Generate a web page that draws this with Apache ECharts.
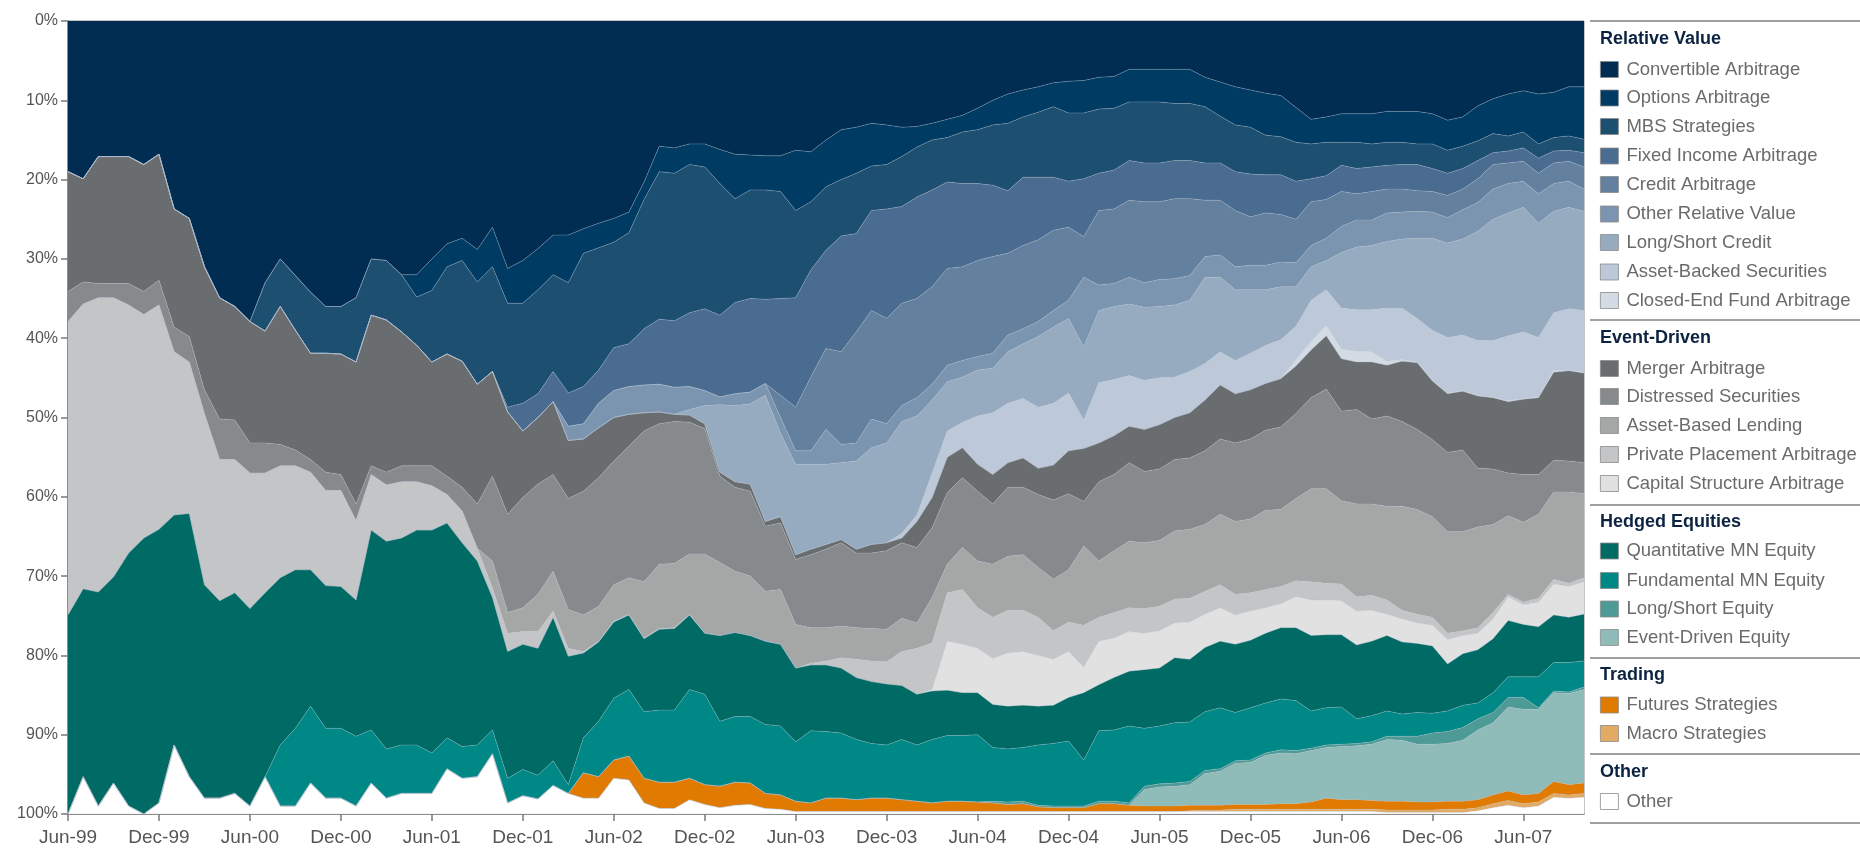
<!DOCTYPE html>
<html><head><meta charset="utf-8">
<script src="https://cdn.jsdelivr.net/npm/echarts@6/dist/echarts.min.js"></script>
<style>html,body{margin:0;padding:0;background:#fff}#chart{width:1860px;height:849px}</style>
</head><body><div id="chart"></div>
<script>
// ---------------- DATA ----------------
const categories = [
'Jun-99','Jul-99','Aug-99','Sep-99','Oct-99','Nov-99','Dec-99',
'Jan-00','Feb-00','Mar-00','Apr-00','May-00','Jun-00','Jul-00','Aug-00','Sep-00','Oct-00','Nov-00','Dec-00',
'Jan-01','Feb-01','Mar-01','Apr-01','May-01','Jun-01','Jul-01','Aug-01','Sep-01','Oct-01','Nov-01','Dec-01',
'Jan-02','Feb-02','Mar-02','Apr-02','May-02','Jun-02','Jul-02','Aug-02','Sep-02','Oct-02','Nov-02','Dec-02',
'Jan-03','Feb-03','Mar-03','Apr-03','May-03','Jun-03','Jul-03','Aug-03','Sep-03','Oct-03','Nov-03','Dec-03',
'Jan-04','Feb-04','Mar-04','Apr-04','May-04','Jun-04','Jul-04','Aug-04','Sep-04','Oct-04','Nov-04','Dec-04',
'Jan-05','Feb-05','Mar-05','Apr-05','May-05','Jun-05','Jul-05','Aug-05','Sep-05','Oct-05','Nov-05','Dec-05',
'Jan-06','Feb-06','Mar-06','Apr-06','May-06','Jun-06','Jul-06','Aug-06','Sep-06','Oct-06','Nov-06','Dec-06',
'Jan-07','Feb-07','Mar-07','Apr-07','May-07','Jun-07','Jul-07','Aug-07','Sep-07','Oct-07'];

const convertibleArbitrage = [
19.0,19.9,17.1,17.1,17.1,18.1,16.8,23.7,24.9,31.0,
34.9,36.0,37.9,33.0,30.0,32.1,34.2,36.0,36.0,34.9,
30.0,30.2,32.0,32.0,30.0,28.1,27.4,28.8,26.0,31.2,
30.2,28.7,27.0,27.0,26.2,25.5,24.9,24.1,20.3,15.8,
16.0,15.5,15.5,16.2,16.8,16.9,17.0,17.0,16.3,16.5,
15.0,13.7,13.4,12.9,13.1,13.4,13.3,12.9,12.4,11.9,
11.0,10.0,9.2,8.7,8.3,7.8,7.6,7.5,7.1,7.0,
6.1,6.1,6.1,6.1,6.1,7.1,7.7,8.3,8.7,9.1,
9.4,10.9,12.4,12.1,11.7,11.7,11.7,11.4,11.4,11.4,
11.7,12.5,12.1,10.7,9.8,9.2,8.8,9.2,9.0,8.3,8.3];
const optionsArbitrage = [
0,0,0,0,0,0,0,0,0,0,
0,0,0,0,0,0,0,0,0,0,
0,0,0,2.8,4.0,2.9,2.8,4.1,5.0,4.4,
5.4,5.2,5.0,6.0,3.1,3.1,3.0,2.6,2.2,3.2,
3.2,2.6,2.9,4.3,5.6,4.4,4.3,4.5,7.6,6.3,
5.9,6.3,5.8,5.4,5.0,3.7,2.6,2.1,2.3,2.1,
2.7,3.1,3.7,3.4,3.2,3.0,4.0,4.1,4.0,4.0,
4.1,4.1,4.1,4.3,4.3,3.7,4.3,4.8,4.7,5.3,
5.2,4.4,3.1,3.2,3.6,3.6,3.8,3.9,3.9,4.1,
3.8,3.8,3.7,4.4,4.4,5.3,5.2,6.3,5.7,6.2,6.6];
const mbsStrategies = [
0,0,0,0,0,0,0,0,0,0,
0,0,0,6.1,6.0,6.9,7.7,5.9,6.0,8.1,
7.1,7.5,7.2,6.1,9.0,11.0,12.7,12.9,13.2,13.1,
12.6,13.1,12.2,13.9,16.8,15.4,13.3,14.0,16.3,18.6,
18.6,18.7,17.9,16.6,13.1,13.7,13.8,13.5,11.0,8.6,
8.0,7.1,7.6,5.6,5.6,6.3,6.3,6.3,5.6,6.5,
6.8,7.6,8.5,7.6,8.2,8.9,8.6,8.3,8.1,7.8,
7.4,7.7,7.7,7.2,7.2,7.1,5.9,5.9,5.9,5.0,
4.8,4.9,4.4,4.2,2.9,3.3,2.9,2.9,2.8,2.6,
3.1,2.9,2.8,2.5,2.4,1.9,2.0,1.8,1.7,1.8,1.7];
const fixedIncomeArbitrage = [
0,0,0,0,0,0,0,0,0,0,
0,0,0,0,0,0,0,0,0,0,
0,0,0,0,0,0,0,0,0,0.6,
3.5,3.0,3.8,4.2,4.7,4.2,5.4,5.4,7.1,8.2,
8.4,9.3,10.3,10.3,11.5,11.8,10.6,12.2,13.8,13.5,
12.4,14.6,12.4,12.6,13.8,12.2,12.8,12.2,10.9,10.5,
9.7,9.0,7.9,8.6,7.9,6.7,5.8,7.3,4.7,4.9,
5.0,4.9,4.9,4.8,4.8,4.7,4.7,4.9,5.4,4.8,
5.0,4.8,2.9,3.0,3.3,3.2,3.1,3.0,3.1,3.3,
2.9,2.8,2.6,2.3,1.5,1.5,1.7,1.9,1.5,1.4,1.8];
const creditArbitrage = [
0,0,0,0,0,0,0,0,0,0,
0,0,0,0,0,0,0,0,0,0,
0,0,0,0,0,0,0,0,0,0,
0,0,0,0,0,0,0,0,0,0,
0,0,0,0,0,0,0,2.8,5.5,9.3,
10.2,11.7,14.0,13.7,13.3,12.9,12.5,12.3,12.2,11.8,
12.1,12.2,10.3,10.5,10.3,10.1,9.2,5.1,9.4,9.4,
9.7,10.2,9.8,10.1,9.7,7.1,6.9,7.1,6.1,6.6,
6.0,5.5,5.5,4.9,4.4,3.3,3.6,3.0,2.9,2.6,
2.6,2.8,2.6,3.0,3.1,2.6,2.5,2.6,2.6,2.5,2.8];
const otherRelativeValue = [
0,0,0,0,0,0,0,0,0,0,
0,0,0,0,0,0,0,0,0,0,
0,0,0,0,0,0,0,0,0,0,
0,0,0,1.8,1.9,3.1,3.4,3.5,3.5,3.5,
3.4,2.9,1.9,1.0,1.5,1.5,1.5,2.0,1.7,1.7,
4.4,2.3,2.3,3.6,2.4,2.0,2.3,2.0,2.1,2.1,
1.7,1.9,2.1,1.9,1.9,2.1,2.3,8.8,3.2,2.9,
3.4,3.1,3.4,3.3,3.1,2.6,2.8,2.9,3.1,3.1,
3.1,3.0,2.7,2.8,3.3,3.4,3.2,3.6,3.4,3.4,
3.3,3.2,3.7,3.6,3.8,3.7,3.3,3.7,3.5,3.3,2.8];
const longShortCredit = [
0,0,0,0,0,0,0,0,0,0,
0,0,0,0,0,0,0,0,0,0,
0,0,0,0,0,0,0,0,0,0,
0,0,0,0,0,0,0,0,0,0,
0,0.7,2.3,8.5,9.6,10.1,15.9,10.5,11.4,10.7,
10.1,9.7,11.1,12.2,12.6,14.1,12.5,9.2,6.2,5.7,
5.8,5.6,6.5,6.9,8.9,9.6,9.4,9.2,9.1,9.2,
9.0,9.2,9.0,9.1,9.0,10.9,9.4,8.9,8.0,7.0,
6.7,5.0,4.2,3.7,7.0,7.9,8.1,8.4,8.7,10.1,
11.6,11.9,12.1,13.8,15.3,15.5,15.7,14.4,12.8,12.8,12.5];
const assetBackedSecurities = [
0,0,0,0,0,0,0,0,0,0,
0,0,0,0,0,0,0,0,0,0,
0,0,0,0,0,0,0,0,0,0,
0,0,0,0,0,0,0,0,0,0,
0,0,0,0,0,0,0,0,0,0,
0,0,0,0,0,0.6,0.8,3.1,3.3,3.2,
6.1,7.8,7.5,7.5,7.7,7.8,7.3,3.6,7.6,7.1,
6.4,6.2,5.9,5.1,5.2,4.6,4.2,4.2,4.6,4.8,
4.9,4.2,5.2,4.5,5.2,5.2,5.3,6.7,6.5,5.5,
6.3,7.0,7.0,6.9,7.1,8.2,8.4,7.5,7.2,7.7,7.8];
const closedEndFundArbitrage = [
0,0,0,0,0,0,0,0,0,0,
0,0,0,0,0,0,0,0,0,0,
0,0,0,0,0,0,0,0,0,0,
0,0,0,0,0,0,0,0,0,0,
0,0,0,0,0,0,0,0,0,0,
0,0,0,0,0,0,0,0,0,0,
0,0,0,0,0,0,0,0,0,0,
0,0,0,0,0,0,0,0,0,0,
0,0.8,1.1,1.3,1.2,1.4,1.3,0.5,0.2,0.1,
0.1,0.1,0.1,0.1,0.1,0.1,0.1,0.1,0.3,0.1,0.1];
const mergerArbitrage = [
15.1,13.0,16.0,16.0,16.0,16.0,15.9,14.9,14.9,15.5,
15.3,14.3,15.3,14.1,17.4,15.1,13.4,15.0,15.2,17.9,
19.0,19.2,16.9,15.2,13.1,15.4,15.9,15.1,13.2,12.9,
8.4,8.4,9.2,7.3,6.6,6.3,5.5,4.0,2.3,1.5,
0.9,0.9,0.6,0.5,0.7,0.9,0.6,0.8,0.6,0.7,
0.6,0.4,0.5,1.1,1.0,0.6,3.3,3.8,4.5,3.8,
3.4,3.7,3.1,3.7,3.3,4.4,5.4,6.7,4.9,4.9,
4.6,5.3,5.6,5.3,5.7,6.4,6.8,6.2,6.2,5.9,
6.1,6.0,6.0,6.7,6.6,6.0,7.2,6.4,7.6,8.4,
7.4,7.4,7.4,9.1,9.0,9.0,9.5,9.7,11.1,11.4,11.3];
const distressedSecurities = [
3.8,2.8,1.8,1.8,2.7,2.9,3.1,3.1,3.2,3.0,
5.1,5.0,3.8,3.8,2.7,2.0,1.6,2.3,2.0,2.1,
1.1,1.6,2.0,2.0,2.5,2.3,3.0,5.6,10.7,12.4,
13.9,13.9,12.2,14.0,15.6,16.2,15.6,16.6,19.0,17.7,
17.9,16.6,15.8,10.9,10.6,10.7,8.2,8.4,8.2,9.2,
9.9,10.5,9.4,9.5,9.9,9.5,9.5,8.8,9.0,8.8,
8.8,7.6,8.7,8.5,9.2,10.0,9.6,5.6,10.0,9.6,
9.9,9.0,9.0,9.0,9.0,9.3,9.5,9.9,10.1,10.1,
10.4,10.7,11.5,12.6,11.3,11.9,10.7,11.4,10.7,10.1,
9.7,10.0,10.3,7.4,7.0,5.4,6.0,5.0,4.0,3.9,3.9];
const assetBasedLending = [
0,0,0,0,0,0,0,0,0,0,
0,0,0,0,0,0,0,0,0,0,
0,0,0,0,0,0,0,0,3.4,2.6,
3.0,4.7,5.0,4.9,4.6,4.4,4.6,4.6,7.1,8.1,
8.1,7.6,10.0,9.2,7.7,7.5,6.3,6.9,5.5,4.5,
4.2,4.0,4.0,4.1,4.1,4.2,3.2,5.7,3.6,5.3,
5.9,6.7,6.8,7.0,6.3,6.5,6.6,10.0,7.1,7.8,
8.4,8.3,8.3,8.6,8.7,8.4,8.9,9.2,9.3,10.0,
9.7,10.4,11.7,11.9,10.5,11.7,11.5,11.8,13.1,13.2,
12.7,12.8,12.5,12.7,11.1,9.9,10.1,10.6,11.0,11.5,10.6];
const privatePlacementArbitrage = [
37.0,35.9,37.1,35.2,31.3,28.2,28.3,20.6,19.1,21.6,
17.8,16.8,17.1,15.1,14.1,13.1,12.3,12.0,12.1,10.0,
7.0,7.1,7.1,6.1,5.6,3.6,4.0,1.6,1.2,2.3,
1.6,2.1,0.8,1.0,0.2,0.1,0.1,0.1,0.1,0.1,
0.1,0.1,0,0,0,0,0,0,0,0.2,
0.5,1.3,2.3,2.6,2.8,4.3,5.8,5.9,6.1,6.9,
5.1,5.2,5.4,5.2,4.8,3.6,3.7,5.3,3.0,3.2,
3.0,3.1,3.1,3.0,3.0,2.9,2.9,2.6,2.3,2.3,
2.2,2.0,2.3,2.1,2.1,1.8,1.9,1.8,1.1,1.1,
1.0,0.8,0.6,0.7,0.8,0.3,0.3,0.5,0.6,0.4,0.5];
const capitalStructureArbitrage = [
0,0,0,0,0,0,0,0,0,0,
0,0,0,0,0,0,0,0,0,0,
0,0,0,0,0,0,0,0,0,0,
0,0,0,0,0,0,0,0,0,0,
0,0,0,0,0,0,0,0,0,0,
0,0,0,0,0,0,0,0.2,6.2,6.1,
5.6,5.8,6.7,6.8,6.4,5.8,5.8,3.2,5.5,5.0,
5.0,4.6,4.7,4.4,4.7,4.2,4.2,3.7,3.7,3.2,
3.0,3.9,4.5,4.4,4.3,4.3,3.9,2.7,2.9,2.6,
2.6,3.1,2.3,2.1,2.5,3.0,2.5,3.1,3.9,3.9,4.1];
const quantitativeMNEquity = [
25.1,23.7,27.0,26.0,31.9,34.8,34.5,29.0,33.2,26.9,
24.9,25.3,24.9,23.2,21.1,20.0,17.2,18.0,17.9,17.2,
25.2,26.2,26.1,27.1,28.1,27.1,25.7,23.2,16.7,16.0,
15.8,16.0,18.1,16.2,10.7,10.0,9.6,9.4,9.2,10.2,
10.3,9.4,7.7,10.8,10.6,10.2,10.5,10.3,9.3,8.3,
8.4,8.2,7.8,7.8,7.7,6.8,6.4,6.1,5.7,5.4,
5.3,5.4,5.4,5.3,4.9,4.8,5.5,8.5,5.8,6.6,
6.9,7.4,7.3,8.2,7.9,8.1,8.4,8.6,8.5,8.8,
9.0,9.2,9.5,9.2,9.1,9.3,9.4,9.5,9.1,8.7,
8.5,5.9,6.5,6.7,6.8,7.1,6.6,6.3,6.0,5.7,5.9];
const fundamentalMNEquity = [
0,0,0,0,0,0,0,0,0,0,
0,0,0,0,7.7,9.8,9.7,8.8,8.8,8.8,
6.7,6.2,6.1,6.1,5.1,3.9,4.0,4.0,3.0,3.1,
3.3,3.0,3.1,1.1,4.4,7.0,7.8,8.4,8.4,9.1,
9.1,11.2,11.4,8.2,8.3,8.4,8.7,8.7,7.5,9.1,
8.4,8.2,7.6,6.9,6.7,7.6,7.1,8.0,8.3,8.3,
8.5,6.8,6.7,6.8,7.6,7.9,8.2,5.8,8.9,9.0,
9.7,7.3,7.3,7.6,7.5,7.4,7.7,6.1,6.6,6.3,
6.4,6.3,4.7,4.7,4.7,3.1,3.3,3.2,2.8,3.0,
2.5,2.6,2.8,2.0,2.5,2.6,2.6,3.9,3.6,3.7,3.3];
const longShortEquity = [
0,0,0,0,0,0,0,0,0,0,
0,0,0,0,0,0,0,0,0,0,
0,0,0,0,0,0,0,0,0,0,
0,0,0,0,0,0,0,0,0,0,
0,0,0,0,0,0,0,0,0,0,
0,0,0,0,0,0,0,0,0,0,
0,0.2,0.3,0.3,0.2,0.2,0.2,0.2,0.3,0.3,
0.3,0.4,0.4,0.4,0.4,0.4,0.3,0.3,0.3,0.3,
0.4,0.4,0.3,0.3,0.3,0.3,0.3,0.4,0.5,1.0,
1.4,1.5,1.6,1.4,1.3,1.2,1.5,0.2,0.2,0.2,0.3];
const eventDrivenEquity = [
0,0,0,0,0,0,0,0,0,0,
0,0,0,0,0,0,0,0,0,0,
0,0,0,0,0,0,0,0,0,0,
0,0,0,0,0,0,0,0,0,0,
0,0,0,0,0,0,0,0,0,0,
0,0,0,0,0,0,0,0,0,0,
0,0,0,0,0,0,0,0,0,0,
0,2.1,2.4,2.5,2.6,4.0,4.3,5.2,5.3,6.2,
6.4,6.3,6.5,6.4,6.7,6.8,7.1,7.8,7.7,7.3,
7.3,7.3,7.7,8.8,9.1,10.6,10.8,10.6,11.2,11.5,11.8];
const futuresStrategies = [
0,0,0,0,0,0,0,0,0,0,
0,0,0,0,0,0,0,0,0,0,
0,0,0,0,0,0,0,0,0,0,
0,0,0,0,3.2,2.7,2.3,3.0,3.1,3.3,
3.3,2.7,2.5,2.7,2.9,2.7,1.9,1.8,1.3,1.1,
1.7,1.7,1.5,1.7,1.7,1.5,1.3,1.1,1.3,1.3,
1.2,1.1,0.9,1.0,0.6,0.5,0.5,0.5,1.0,1.0,
0.8,0.7,0.7,0.7,0.7,0.6,0.6,0.6,0.6,0.6,
0.7,0.7,0.9,1.4,1.2,1.2,1.1,1.1,1.1,1.0,
1.0,1.0,1.0,1.0,1.1,1.2,1.1,1.1,1.5,1.3,1.3];
const macroStrategies = [
0,0,0,0,0,0,0,0,0,0,
0,0,0,0,0,0,0,0,0,0,
0,0,0,0,0,0,0,0,0,0,
0,0,0,0,0,0,0,0,0,0,
0,0,0,0,0,0,0,0,0,0,
0,0,0,0,0,0,0,0,0,0,
0,0,0,0,0,0,0,0,0,0,
0,0,0,0,0.1,0.2,0.2,0.3,0.3,0.3,
0.3,0.3,0.3,0.3,0.3,0.3,0.3,0.3,0.3,0.3,
0.3,0.4,0.4,0.4,0.5,0.6,0.5,0.5,0.5,0.4,0.5];
const otherStrategies = [
0,4.7,1.0,3.9,1.0,0,1.4,8.7,4.7,2.0,
2.0,2.6,1.0,4.7,1.0,1.0,3.9,2.0,2.0,1.0,
3.9,2.0,2.6,2.6,2.6,5.7,4.5,4.7,7.6,1.4,
2.3,1.9,3.6,2.6,2.0,2.0,4.5,4.3,1.4,0.7,
0.7,1.8,1.2,0.8,1.1,1.2,0.7,0.6,0.3,0.3,
0.3,0.3,0.3,0.3,0.3,0.3,0.3,0.3,0.3,0.3,
0.3,0.3,0.3,0.3,0.3,0.3,0.3,0.3,0.3,0.3,
0.3,0.3,0.3,0.3,0.3,0.3,0.3,0.3,0.3,0.3,
0.3,0.3,0.3,0.3,0.3,0.3,0.3,0.2,0.2,0.2,
0.2,0.2,0.2,0.4,0.8,1.1,0.8,1.0,2.1,2.0,2.1];

const groupTitles = ['Relative Value','Event-Driven','Hedged Equities','Trading','Other'];

// ---------------- SERIES SPEC ----------------
const seriesSpec = [
  ['Convertible Arbitrage', convertibleArbitrage, '#002d51'],
  ['Options Arbitrage', optionsArbitrage, '#003b64'],
  ['MBS Strategies', mbsStrategies, '#1d4f71'],
  ['Fixed Income Arbitrage', fixedIncomeArbitrage, '#4a6c90'],
  ['Credit Arbitrage', creditArbitrage, '#63809f'],
  ['Other Relative Value', otherRelativeValue, '#7b95b1'],
  ['Long/Short Credit', longShortCredit, '#96aac0'],
  ['Asset-Backed Securities', assetBackedSecurities, '#bdc9d9'],
  ['Closed-End Fund Arbitrage', closedEndFundArbitrage, '#d3dbe5'],
  ['Merger Arbitrage', mergerArbitrage, '#6a6d6f'],
  ['Distressed Securities', distressedSecurities, '#878a8c'],
  ['Asset-Based Lending', assetBasedLending, '#a5a6a6'],
  ['Private Placement Arbitrage', privatePlacementArbitrage, '#c4c5c7'],
  ['Capital Structure Arbitrage', capitalStructureArbitrage, '#e1e1e1'],
  ['Quantitative MN Equity', quantitativeMNEquity, '#006a65'],
  ['Fundamental MN Equity', fundamentalMNEquity, '#008886'],
  ['Long/Short Equity', longShortEquity, '#4e9a96'],
  ['Event-Driven Equity', eventDrivenEquity, '#8fbcb8'],
  ['Futures Strategies', futuresStrategies, '#e07a00'],
  ['Macro Strategies', macroStrategies, '#e2aa62'],
  ['Other', otherStrategies, '#ffffff']
];
seriesSpec.forEach(s => { if (s[1].length !== categories.length) throw new Error(s[0] + ' has ' + s[1].length); });

const FONT = "'Liberation Sans', Arial, Helvetica, sans-serif";

// legend layout (pixel positions)
const headerY = [39, 338, 522, 675, 772];
const itemY = [69, 97.5, 126, 155.5, 184, 213.5, 242, 271.5, 300,
               368, 396, 425, 454, 483,
               550.5, 580, 608.5, 637,
               704.5, 733,
               801];
const sepY = [21, 320, 505, 658, 754, 823];

const series = seriesSpec.map(s => ({
  name: s[0], type: 'line', stack: 'total', data: s[1],
  symbol: 'none', smooth: false,
  lineStyle: { width: 0.6, color: 'rgba(175,188,202,0.55)' },
  areaStyle: { color: s[2], opacity: 1 },
  itemStyle: { color: s[2] },
  emphasis: { disabled: true },
  silent: true
}));

const legends = seriesSpec.map((s, i) => ({
  show: true, orient: 'vertical', left: 1600, top: itemY[i] - 9,
  padding: 0, itemGap: 0, itemWidth: 18, itemHeight: 16,
  icon: 'rect', selectedMode: false,
  itemStyle: { borderColor: '#8a8a8a', borderWidth: 0.8 },
  textStyle: { fontFamily: FONT, fontSize: 18.5, color: '#6b6b6b', lineHeight: 18, padding: [0,0,0,3] },
  data: [s[0]]
}));

const graphics = [];
sepY.forEach(y => graphics.push({
  type: 'line', silent: true,
  shape: { x1: 1590, y1: y, x2: 1860, y2: y },
  style: { stroke: '#a0a0a0', lineWidth: 2 }
}));
groupTitles.forEach((t, i) => graphics.push({
  type: 'text', silent: true, x: 1600, y: headerY[i],
  style: { text: t, fill: '#0b2340', fontSize: 18, fontWeight: 'bold', fontFamily: FONT, verticalAlign: 'middle', align: 'left' }
}));

const chart = echarts.init(document.getElementById('chart'), null, { renderer: 'canvas' });
chart.setOption({
  animation: false,
  backgroundColor: '#ffffff',
  grid: { left: 68, right: 276, top: 21, bottom: 35, show: true, borderColor: '#8c8c8c', borderWidth: 1, backgroundColor: 'transparent' },
  xAxis: {
    type: 'category', data: categories, boundaryGap: false,
    axisLine: { onZero: false, lineStyle: { color: '#7a7a7a', width: 1.5 } },
    axisTick: { show: true, interval: 5, length: 7, lineStyle: { color: '#7a7a7a', width: 1.5 } },
    axisLabel: { interval: 5, margin: 14, fontFamily: FONT, fontSize: 19, color: '#555555' },
    splitLine: { show: false }
  },
  yAxis: {
    type: 'value', inverse: true, min: 0, max: 100, interval: 10,
    axisLine: { show: true, lineStyle: { color: '#7a7a7a', width: 1.5 } },
    axisTick: { show: true, length: 7, lineStyle: { color: '#7a7a7a', width: 1.5 } },
    axisLabel: { formatter: '{value}%', margin: 10, fontFamily: FONT, fontSize: 16, color: '#555555' },
    splitLine: { show: false }
  },
  legend: legends,
  graphic: graphics,
  series: series
});
</script>
</body></html>
